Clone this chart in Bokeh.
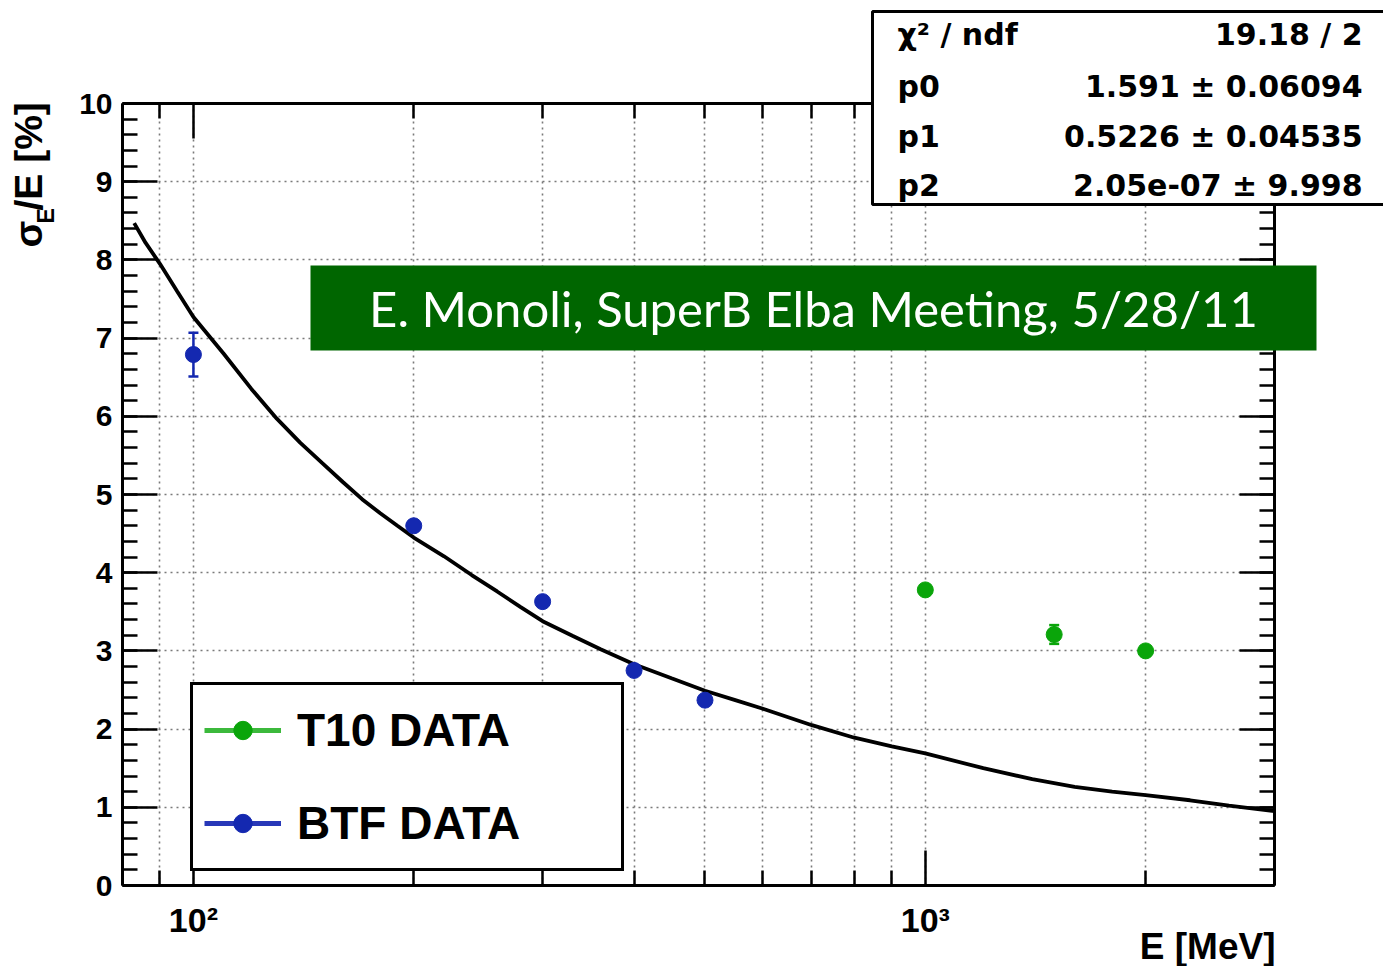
import math

from bokeh.embed import file_html
from bokeh.layouts import column
from bokeh.models import (ColumnDataSource, FixedTicker, Label, Legend, LegendItem,
                          LinearAxis, LogAxis, Range1d, TeeHead, Whisker)
from bokeh.plotting import figure
from bokeh.resources import INLINE

# ---------------------------------------------------------------- data
btf_energy = [100, 200, 300, 400, 500]          # MeV
btf_res = [6.79, 4.60, 3.63, 2.75, 2.37]         # sigma_E / E [%]
btf_err = [0.28, 0.05, 0.05, 0.04, 0.04]

t10_energy = [1000, 1500, 2000]
t10_res = [3.78, 3.21, 3.00]
t10_err = [0.05, 0.12, 0.05]

# fitted resolution curve, sampled along E
fit_energy = [83, 86, 90, 95, 100, 110, 120, 130, 140, 150, 160, 170, 180, 190, 200,
              220, 240, 260, 280, 300, 330, 360, 400, 450, 500, 550, 600, 700, 800,
              900, 1000, 1200, 1400, 1600, 1800, 2000, 2300, 2600, 3000]
fit_res = [8.47, 8.22, 7.95, 7.60, 7.27, 6.80, 6.35, 5.97, 5.66, 5.40, 5.16, 4.94, 4.76,
           4.60, 4.45, 4.21, 3.97, 3.76, 3.56, 3.38, 3.19, 3.02, 2.83, 2.65, 2.49, 2.37,
           2.26, 2.05, 1.89, 1.78, 1.69, 1.50, 1.36, 1.26, 1.20, 1.155, 1.09, 1.02, 0.95]

x_major_ticks = [100, 1000]
x_minor_ticks = [80, 90, 200, 300, 400, 500, 600, 700, 800, 900, 2000, 3000]
x_grid_ticks = [90, 100, 200, 300, 400, 500, 600, 700, 800, 900, 1000, 2000]
x_tick_labels = {100: "10²", 1000: "10³"}
y_major_ticks = [0, 1, 2, 3, 4, 5, 6, 7, 8, 9, 10]
y_minor_ticks = [round(0.2 * i, 1) for i in range(51)]

stats_names = ["χ² / ndf", "p0", "p1", "p2"]
stats_values = ["19.18 / 2", "1.591 ± 0.06094", "0.5226 ± 0.04535", "2.05e-07 ± 9.998"]

series_names = ["T10 DATA", "BTF DATA"]
banner_text = "E. Monoli, SuperB Elba Meeting, 5/28/11"

# ---------------------------------------------------------------- layout (canvas px)
W, H = 1383, 966
FL, FR, FT, FB = 122, 1274, 103, 885

ARIAL = "Liberation Sans"
GREEN = "#0aa50a"
GREEN_LINE = "#3cb93c"
BLUE = "#1428b0"
BLUE_LINE = "#2838b8"

p = figure(width=W, height=H, x_axis_type="log",
           x_range=Range1d(80, 3000), y_range=Range1d(0, 10),
           output_backend="svg", toolbar_location=None,
           min_border_left=FL, min_border_right=W - FR,
           min_border_top=FT, min_border_bottom=H - FB,
           outline_line_color=None, frame_align=False,
           background_fill_color="white", border_fill_color="white")

# ---------------------------------------------------------------- axes (ticks on all four sides)
bottom_axis = p.below[0]
left_axis = p.left[0]
top_axis = LogAxis()
right_axis = LinearAxis()
p.add_layout(top_axis, "above")
p.add_layout(right_axis, "right")

for ax in [bottom_axis, top_axis]:
    ax.ticker = FixedTicker(ticks=x_major_ticks, minor_ticks=x_minor_ticks)
for ax in [left_axis, right_axis]:
    ax.ticker = FixedTicker(ticks=y_major_ticks, minor_ticks=y_minor_ticks)

for ax in [bottom_axis, left_axis, top_axis, right_axis]:
    ax.axis_line_color = "black"
    ax.axis_line_width = 3
    ax.major_tick_in = 35
    ax.major_tick_out = 0
    ax.minor_tick_in = 15
    ax.minor_tick_out = 0
    ax.major_tick_line_width = 2.5
    ax.minor_tick_line_width = 2.5
    ax.major_tick_line_color = "black"
    ax.minor_tick_line_color = "black"
    ax.major_label_text_font = ARIAL
    ax.major_label_text_font_style = "bold"
    ax.major_label_text_color = "black"

bottom_axis.major_label_overrides = x_tick_labels
bottom_axis.major_label_text_font_size = "34px"
bottom_axis.major_label_standoff = 15
left_axis.major_label_text_font_size = "30px"
left_axis.major_label_standoff = 10
top_axis.major_label_overrides = {t: "" for t in x_major_ticks}
right_axis.major_label_overrides = {t: "" for t in y_major_ticks}

# ---------------------------------------------------------------- grid
p.xgrid.ticker = FixedTicker(ticks=x_grid_ticks)
p.ygrid.ticker = FixedTicker(ticks=y_major_ticks[1:-1])
for g in [p.xgrid[0], p.ygrid[0]]:
    g.grid_line_color = "#7a7a7a"
    g.grid_line_width = 1.6
    g.grid_line_dash = "2 4"

# ---------------------------------------------------------------- fit curve
p.line(fit_energy, fit_res, line_color="black", line_width=3.8)

# ---------------------------------------------------------------- data points with error bars
btf_src = ColumnDataSource(dict(
    x=btf_energy, y=btf_res,
    lo=[v - e for v, e in zip(btf_res, btf_err)],
    hi=[v + e for v, e in zip(btf_res, btf_err)]))
t10_src = ColumnDataSource(dict(
    x=t10_energy, y=t10_res,
    lo=[v - e for v, e in zip(t10_res, t10_err)],
    hi=[v + e for v, e in zip(t10_res, t10_err)]))

for src, col in [(btf_src, BLUE), (t10_src, GREEN)]:
    p.add_layout(Whisker(source=src, base="x", lower="lo", upper="hi",
                         line_color=col, line_width=2.5,
                         lower_head=TeeHead(size=10, line_color=col, line_width=2.5),
                         upper_head=TeeHead(size=10, line_color=col, line_width=2.5)))

btf_pts = p.scatter("x", "y", source=btf_src, size=16, fill_color=BLUE, line_color=BLUE)
t10_pts = p.scatter("x", "y", source=t10_src, size=16, fill_color=GREEN, line_color=GREEN)

# line styles shown only in the legend entries (no drawable points)
nan = float("nan")
t10_leg_line = p.line(x=[nan], y=[nan], line_color=GREEN_LINE, line_width=5)
btf_leg_line = p.line(x=[nan], y=[nan], line_color=BLUE_LINE, line_width=5)

legend = Legend(
    items=[LegendItem(label=series_names[0], renderers=[t10_leg_line, t10_pts]),
           LegendItem(label=series_names[1], renderers=[btf_leg_line, btf_pts])],
    location=(190 - FL, FB - 871), margin=0, padding=11, spacing=25,
    glyph_width=77, glyph_height=46, label_height=68, label_width=313,
    label_standoff=16,
    label_text_font=ARIAL, label_text_font_style="bold", label_text_font_size="46px",
    label_text_color="black",
    border_line_color="black", border_line_width=3, border_line_alpha=1.0,
    background_fill_color="white", background_fill_alpha=1.0)
p.add_layout(legend)

# ---------------------------------------------------------------- overlay sheet in canvas pixels
# (banner, fit statistics box and axis titles reach outside the data frame)
ov = figure(width=W, height=H, x_range=Range1d(0, W), y_range=Range1d(H, 0),
            x_axis_type=None, y_axis_type=None, min_border=0, frame_align=False,
            output_backend="svg", toolbar_location=None, outline_line_color=None,
            background_fill_alpha=0, border_fill_alpha=0,
            styles={"position": "absolute", "left": "0px", "top": "0px"})

# banner
ov.quad(left=[310], right=[1316], top=[265], bottom=[350],
        fill_color="#006600", line_color=None)
ov.add_layout(Label(x=813, y=307, text=banner_text, text_color="white",
                    text_align="center", text_baseline="middle",
                    text_font="Lato", text_font_size="49px"))

# fit statistics box (runs past the right edge of the page)
ov.quad(left=[872], right=[1600], top=[11], bottom=[204],
        fill_color="white", line_color="black", line_width=3)
stat_rows = [34, 86, 136, 185]
for name, val, row in zip(stats_names, stats_values, stat_rows):
    ov.add_layout(Label(x=897, y=row, text=name, text_align="left", text_baseline="middle",
                        text_font="DejaVu Sans", text_font_style="bold",
                        text_font_size="30px", text_color="black"))
    ov.add_layout(Label(x=1362, y=row, text=val, text_align="right", text_baseline="middle",
                        text_font="DejaVu Sans", text_font_style="bold",
                        text_font_size="30px", text_color="black"))

# axis titles
ov.add_layout(Label(x=1275, y=946, text="E [MeV]", text_align="right",
                    text_baseline="middle", text_font=ARIAL, text_font_style="bold",
                    text_font_size="37px", text_color="black"))
rot = math.pi / 2
ov.add_layout(Label(x=28, y=247, angle=rot, text="σ", text_align="left",
                    text_baseline="middle", text_font=ARIAL, text_font_style="bold",
                    text_font_size="39px", text_color="black"))
ov.add_layout(Label(x=45, y=223, angle=rot, text="E", text_align="left",
                    text_baseline="middle", text_font=ARIAL, text_font_style="bold",
                    text_font_size="23px", text_color="black"))
ov.add_layout(Label(x=28, y=210, angle=rot, text="/E [%]", text_align="left",
                    text_baseline="middle", text_font=ARIAL, text_font_style="bold",
                    text_font_size="39px", text_color="black"))

page = column(p, ov, styles={"position": "relative"})
open("out.html", "w").write(file_html(page, INLINE))
